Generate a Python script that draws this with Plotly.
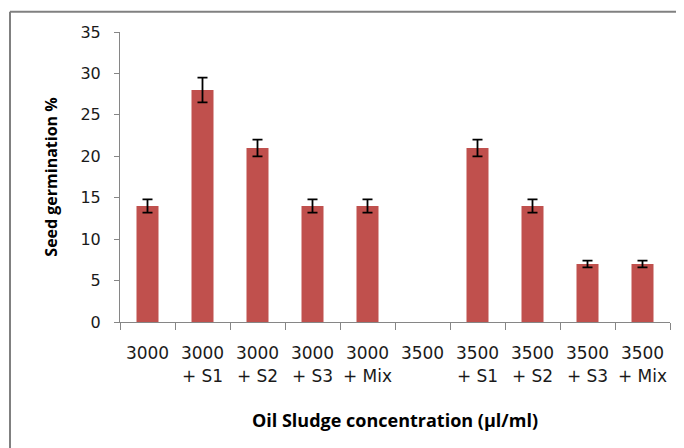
import plotly.graph_objects as go

categories = ["3000", "3000<br>+ S1", "3000<br>+ S2", "3000<br>+ S3", "3000<br>+ Mix",
              "3500", "3500<br>+ S1", "3500<br>+ S2", "3500<br>+ S3", "3500<br>+ Mix"]
germination = [14, 28, 21, 14, 14, 0, 21, 14, 7, 7]
errors = [0.8, 1.5, 1.0, 0.8, 0.8, 0, 1.0, 0.8, 0.4, 0.4]
y_ticks = [0, 5, 10, 15, 20, 25, 30, 35]

# zero-height bars (and their error caps) are not drawn, as in the original chart
y_drawn = [v if v > 0 else None for v in germination]

fig = go.Figure()
fig.add_trace(go.Bar(
    x=categories, y=y_drawn,
    marker=dict(color="#C0504D", line=dict(width=0)),
    width=0.4,
    error_y=dict(type="data", array=errors,
                 visible=True, color="black", thickness=1.8, width=5),
))

fig.update_layout(
    width=684, height=448,
    margin=dict(l=112, r=22, t=24, b=134),
    paper_bgcolor="white", plot_bgcolor="white",
    font=dict(family="DejaVu Sans, sans-serif", color="black"),
    showlegend=False,
    xaxis=dict(
        type="category",
        showline=True, linecolor="#868686", linewidth=1,
        ticks="outside", tickson="boundaries", ticklen=7, tickcolor="#868686",
        tickfont=dict(size=17, color="#1a1a1a"),
        tickangle=0,
        ticklabelstandoff=16,
        showgrid=False,
        title=dict(text="<b>Oil Sludge concentration (µl/ml)</b>",
                   font=dict(size=18, family="Open Sans, sans-serif"), standoff=29),
    ),
    yaxis=dict(
        range=[0, 35], tickvals=y_ticks,
        showline=True, linecolor="#868686", linewidth=1,
        ticks="outside", ticklen=5, tickcolor="#868686",
        tickfont=dict(size=16, color="#1a1a1a"),
        ticklabelstandoff=10,
        showgrid=False, zeroline=False,
        title=dict(text="<b>Seed germination %</b>",
                   font=dict(size=16, family="Open Sans, sans-serif"), standoff=18),
    ),
    shapes=[
        dict(type="line", xref="paper", yref="paper", layer="above",
             x0=-0.2, x1=-0.2, y0=-0.44, y1=1.07,
             line=dict(color="#808080", width=2)),
        dict(type="line", xref="paper", yref="paper", layer="above",
             x0=-0.2, x1=1.2, y0=1.07, y1=1.07,
             line=dict(color="#808080", width=2)),
    ],
)

fig.write_html("out.html")
